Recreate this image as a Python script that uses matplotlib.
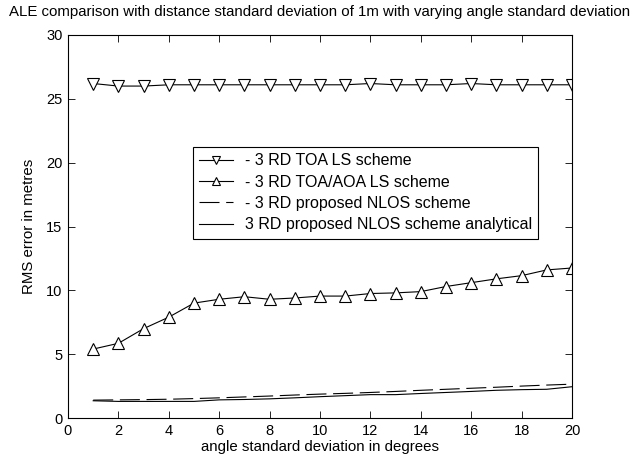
import numpy as np
import matplotlib
matplotlib.use('Agg')
from matplotlib import pyplot as plt
from matplotlib.legend_handler import HandlerLine2D

plt.rcParams['font.family'] = ['Liberation Sans', 'DejaVu Sans']

# angle standard deviation in degrees
angle = [1, 2, 3, 4, 5, 6, 7, 8, 9, 10, 11, 12, 13, 14, 15, 16, 17, 18, 19, 20]

# RMS error (m) for each scheme
toa_ls = [26.2, 26.0, 26.0, 26.1, 26.1, 26.1, 26.1, 26.1, 26.1, 26.1,
          26.1, 26.2, 26.1, 26.1, 26.1, 26.2, 26.1, 26.1, 26.1, 26.1]
toa_aoa_ls = [5.4, 5.85, 7.0, 7.9, 9.0, 9.3, 9.5, 9.3, 9.4, 9.55,
              9.55, 9.75, 9.8, 9.9, 10.3, 10.6, 10.9, 11.15, 11.6, 11.75]
nlos = [1.4, 1.42, 1.44, 1.47, 1.52, 1.58, 1.65, 1.72, 1.8, 1.87,
        1.93, 2.0, 2.08, 2.17, 2.25, 2.33, 2.41, 2.5, 2.58, 2.65]
nlos_analytical = [1.35, 1.3, 1.3, 1.3, 1.3, 1.42, 1.45, 1.5, 1.58, 1.67,
                   1.75, 1.83, 1.83, 1.92, 2.0, 2.08, 2.17, 2.22, 2.25, 2.45]

labels = ['- 3 RD TOA LS scheme', '- 3 RD TOA/AOA LS scheme',
          '- 3 RD proposed NLOS scheme', '3 RD proposed NLOS scheme analytical']


# legend handle with the marker near the right end of the line (matlab look)
class RightMarker(HandlerLine2D):
    def get_xdata(self, legend, xdescent, ydescent, width, height, fontsize):
        xdata = np.array([-xdescent, -xdescent + width])
        return xdata, np.array([-xdescent + width * 0.75])


fig = plt.figure(figsize=(6.3, 4.59), dpi=100)
ax = fig.add_axes([68/630, 1 - 418/459, 504/630, 383/459])

l1, = ax.plot(angle, toa_ls, '-v', color='k', lw=0.8, ms=8, mfc='white', mew=0.8, label=labels[0])
l2, = ax.plot(angle, toa_aoa_ls, '-^', color='k', lw=0.8, ms=8, mfc='white', mew=0.8, label=labels[1])
ax.plot(angle, nlos, color='k', lw=0.8, dashes=(18, 6), label=labels[2])
ax.plot(angle, nlos_analytical, '-', color='k', lw=0.8, label=labels[3])

ax.set_xlim(0, 20)
ax.set_ylim(0, 30)
ax.set_xticks(np.arange(0, 21, 2))
ax.set_yticks(np.arange(0, 31, 5))
ax.tick_params(direction='in', top=True, right=True, length=5, labelsize=10.5, width=0.6, pad=4)
for s in ax.spines.values():
    s.set_linewidth(0.8)

ax.set_xlabel('angle standard deviation in degrees', fontsize=10.8, labelpad=2)
ax.set_ylabel('RMS error in metres', fontsize=10.8, labelpad=7)
ax.set_title('ALE comparison with distance standard deviation of 1m with varying angle standard deviation',
             fontsize=10.8, pad=14)

leg = ax.legend(loc='upper left', bbox_to_anchor=(0.248, 0.708), fontsize=11.5,
                frameon=True, fancybox=False, edgecolor='k', framealpha=1,
                handlelength=2.1, borderpad=0.4, labelspacing=0.4, handletextpad=0.75,
                borderaxespad=0, markerscale=0.7,
                handler_map={l1: RightMarker(), l2: RightMarker()})
leg.get_frame().set_linewidth(0.8)

fig.savefig('out.png', dpi=100)
